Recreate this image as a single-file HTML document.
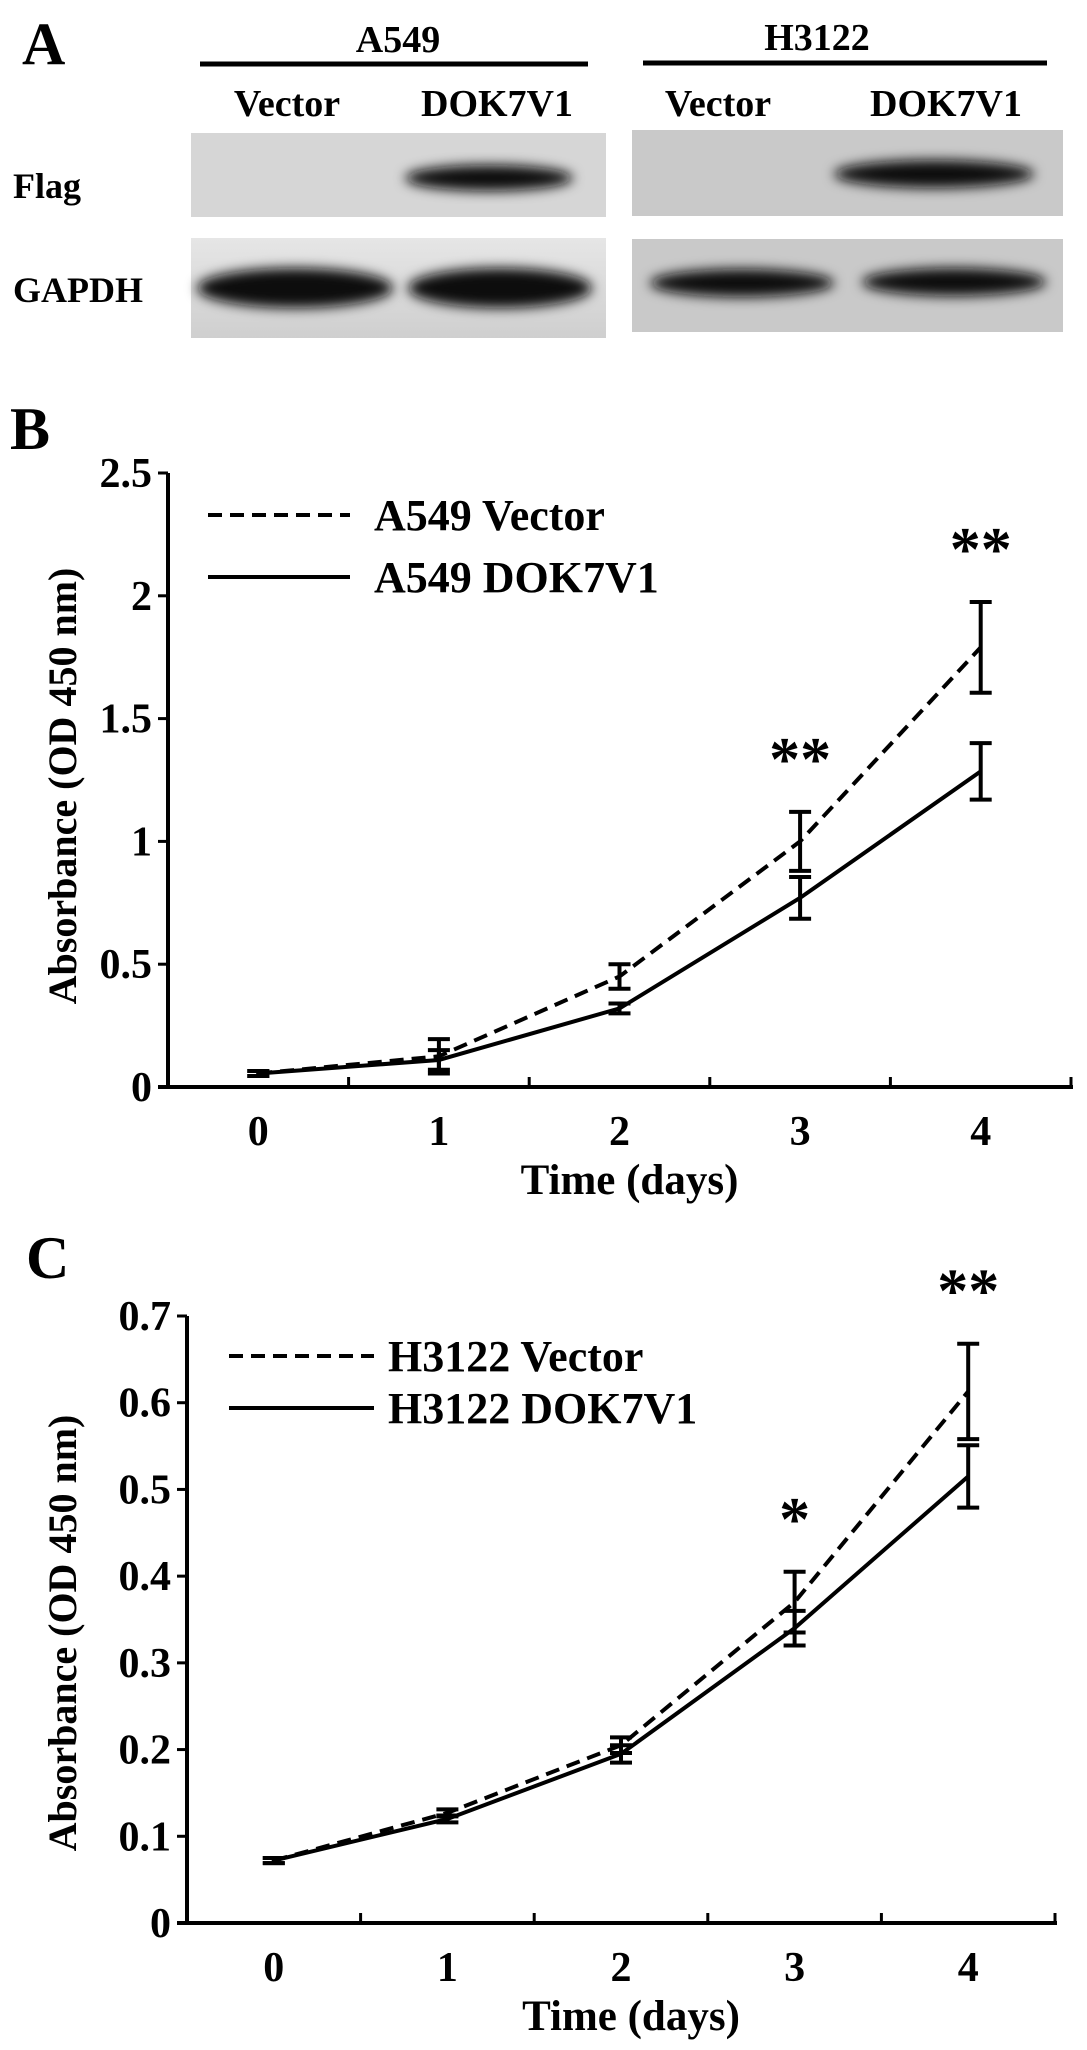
<!DOCTYPE html>
<html><head><meta charset="utf-8"><style>
html,body{margin:0;padding:0;background:#fff;}
svg{display:block;font-family:"Liberation Serif",serif;font-weight:bold;}
</style></head><body>
<svg id="fig" width="1087" height="2050" viewBox="0 0 1087 2050" xmlns="http://www.w3.org/2000/svg">
<defs>
<filter id="blur" x="-20%" y="-50%" width="140%" height="200%"><feGaussianBlur stdDeviation="6"/></filter>
<linearGradient id="g1" x1="0" y1="0" x2="0" y2="1"><stop offset="0" stop-color="#e6e6e6"/><stop offset="1" stop-color="#cfcfcf"/></linearGradient>
</defs>
<g>
<text x="22" y="64" font-size="60">A</text>
<text x="398" y="52" font-size="38" text-anchor="middle">A549</text>
<line x1="200" y1="64" x2="588" y2="64" stroke="#000" stroke-width="5"/>
<text x="817" y="50" font-size="38" text-anchor="middle">H3122</text>
<line x1="643" y1="63" x2="1047" y2="63" stroke="#000" stroke-width="5"/>
<text x="287" y="116" font-size="38" text-anchor="middle">Vector</text>
<text x="497" y="116" font-size="38" text-anchor="middle">DOK7V1</text>
<text x="718" y="116" font-size="38" text-anchor="middle">Vector</text>
<text x="946" y="116" font-size="38" text-anchor="middle">DOK7V1</text>
<text x="13" y="198" font-size="36">Flag</text>
<text x="13" y="302" font-size="36">GAPDH</text>
<rect x="191" y="133" width="415" height="84" fill="#d6d6d6"/>
<ellipse cx="489" cy="178" rx="84" ry="13" fill="#111" filter="url(#blur)"/>
<rect x="191" y="238" width="415" height="100" fill="url(#g1)"/>
<ellipse cx="295" cy="288" rx="98" ry="20" fill="#111" filter="url(#blur)"/>
<ellipse cx="500" cy="288" rx="92" ry="20" fill="#111" filter="url(#blur)"/>
<rect x="632" y="130" width="431" height="86" fill="#c9c9c9"/>
<ellipse cx="934" cy="174" rx="100" ry="14" fill="#111" filter="url(#blur)"/>
<rect x="632" y="239" width="431" height="93" fill="#c9c9c9"/>
<ellipse cx="742" cy="283" rx="92" ry="14" fill="#111" filter="url(#blur)"/>
<ellipse cx="954" cy="282" rx="92" ry="14" fill="#111" filter="url(#blur)"/>
</g>
<g id="chartB"></g>
<g id="chartC"></g>
</svg>
<script>
const categories = ["0","1","2","3","4"];
const bVectorValues = [0.055, 0.125, 0.45, 1.0, 1.79];
const bVectorErrors = [0.01, 0.07, 0.05, 0.12, 0.185];
const bDokValues = [0.055, 0.11, 0.32, 0.77, 1.285];
const bDokErrors = [0.01, 0.04, 0.02, 0.085, 0.115];
const bTicks = [0, 0.5, 1, 1.5, 2, 2.5];
const bTickLabels = ["0","0.5","1","1.5","2","2.5"];
const bStars = ["", "", "", "**", "**"];
const cVectorValues = [0.072, 0.127, 0.205, 0.37, 0.613];
const cVectorErrors = [0.003, 0.004, 0.009, 0.035, 0.055];
const cDokValues = [0.072, 0.12, 0.195, 0.34, 0.515];
const cDokErrors = [0.003, 0.004, 0.01, 0.02, 0.036];
const cTicks = [0, 0.1, 0.2, 0.3, 0.4, 0.5, 0.6, 0.7];
const cTickLabels = ["0","0.1","0.2","0.3","0.4","0.5","0.6","0.7"];
const cStars = ["", "", "", "*", "**"];

const NS = "http://www.w3.org/2000/svg";
function mk(parent, tag, attrs, text) {
  const el = document.createElementNS(NS, tag);
  for (const k in attrs) el.setAttribute(k, attrs[k]);
  if (text !== undefined) el.textContent = text;
  parent.appendChild(el);
  return el;
}
function drawChart(g, cfg) {
  const yScale = v => cfg.y0 - (v - cfg.ticks[0]) / (cfg.ticks[cfg.ticks.length-1] - cfg.ticks[0]) * (cfg.y0 - cfg.yTop);
  const bw = (cfg.xR - cfg.xL) / categories.length;
  const xScale = i => cfg.xL + bw * (i + 0.5);
  let t = mk(g, "text", {x: cfg.labelX, y: cfg.labelY, "font-size": 60}, cfg.panel);
  
  
  let ax = mk(g, "line", {x1: cfg.xL, y1: cfg.yTop, x2: cfg.xL, y2: cfg.y0, stroke: "#000", "stroke-width": 4});
  
  
  let xa = mk(g, "line", {x1: cfg.xL - 10, y1: cfg.y0, x2: cfg.xR + 2, y2: cfg.y0, stroke: "#000", "stroke-width": 4});
  
  
  cfg.ticks.forEach((v, i) => {
    const y = yScale(v);
    let tk = mk(g, "line", {x1: cfg.xL - 10, y1: y, x2: cfg.xL, y2: y, stroke: "#000", "stroke-width": 3});
    
    
    let tl = mk(g, "text", {x: cfg.xL - 16, y: y + 14, "font-size": 42, "text-anchor": "end"}, cfg.tickLabels[i]);
    
    
  });
  categories.forEach((c, i) => {
    const xt = cfg.xL + bw * (i + 1);
    let tk = mk(g, "line", {x1: xt, y1: cfg.y0, x2: xt, y2: cfg.y0 - 10, stroke: "#000", "stroke-width": 3});
    
    
    let tl = mk(g, "text", {x: xScale(i), y: cfg.y0 + 58, "font-size": 42, "text-anchor": "middle"}, c);
    
    
  });
  let xt = mk(g, "text", {x: (cfg.xL + cfg.xR) / 2 + 10, y: cfg.y0 + 107, "font-size": 43, "text-anchor": "middle"}, "Time (days)");
  
  
  let yt = mk(g, "text", {x: 0, y: 0, "font-size": 40, "text-anchor": "middle", transform: `translate(${cfg.yTitleX},${cfg.yTitleY}) rotate(-90)`}, "Absorbance (OD 450 nm)");
  
  
  const series = [
    {vals: cfg.vec, errs: cfg.vecErr, dash: "14 8", name: "vector"},
    {vals: cfg.dok, errs: cfg.dokErr, dash: "", name: "dok7v1"}
  ];
  series.forEach(s => {
    const pts = s.vals.map((v, i) => `${xScale(i)},${yScale(v)}`).join(" ");
    const a = {points: pts, fill: "none", stroke: "#000", "stroke-width": 4};
    if (s.dash) a["stroke-dasharray"] = s.dash;
    let pl = mk(g, "polyline", a);
    
    
    s.vals.forEach((v, i) => {
      const x = xScale(i), yh = yScale(v + s.errs[i]), yl = yScale(v - s.errs[i]);
      const eb = mk(g, "path", {d: `M${x},${yh}V${yl}M${x-11},${yh}H${x+11}M${x-11},${yl}H${x+11}`, stroke: "#000", "stroke-width": 4, fill: "none"});
      
      
    });
  });
  cfg.stars.forEach((s, i) => {
    if (!s) return;
    const top = yScale(cfg.vec[i] + cfg.vecErr[i]);
    let st = mk(g, "text", {x: xScale(i), y: top - 32, "font-size": 62, "text-anchor": "middle"}, s);
    
    
  });
  const L = cfg.legend;
  let l1 = mk(g, "line", {x1: L.x1, y1: L.y1, x2: L.x2, y2: L.y1, stroke: "#000", "stroke-width": 4, "stroke-dasharray": "14 8"});
  
  
  let t1 = mk(g, "text", {x: L.tx, y: L.y1 + 15, "font-size": 44}, cfg.names[0]);
  
  
  let l2 = mk(g, "line", {x1: L.x1, y1: L.y2, x2: L.x2, y2: L.y2, stroke: "#000", "stroke-width": 4});
  
  
  let t2 = mk(g, "text", {x: L.tx, y: L.y2 + 15, "font-size": 44}, cfg.names[1]);
  
  
}
drawChart(document.getElementById("chartB"), {
  panel: "B", labelX: 10, labelY: 449, xL: 168, xR: 1071, y0: 1087, yTop: 473,
  ticks: bTicks, tickLabels: bTickLabels, vec: bVectorValues, vecErr: bVectorErrors,
  dok: bDokValues, dokErr: bDokErrors, stars: bStars, yTitleX: 76, yTitleY: 786,
  legend: {x1: 208, x2: 350, y1: 515, y2: 577, tx: 374}, names: ["A549 Vector", "A549 DOK7V1"]
});
drawChart(document.getElementById("chartC"), {
  panel: "C", labelX: 26, labelY: 1278, xL: 187, xR: 1055, y0: 1923, yTop: 1316,
  ticks: cTicks, tickLabels: cTickLabels, vec: cVectorValues, vecErr: cVectorErrors,
  dok: cDokValues, dokErr: cDokErrors, stars: cStars, yTitleX: 76, yTitleY: 1633,
  legend: {x1: 229, x2: 374, y1: 1356, y2: 1408, tx: 388}, names: ["H3122 Vector", "H3122 DOK7V1"]
});
</script>
</body></html>
